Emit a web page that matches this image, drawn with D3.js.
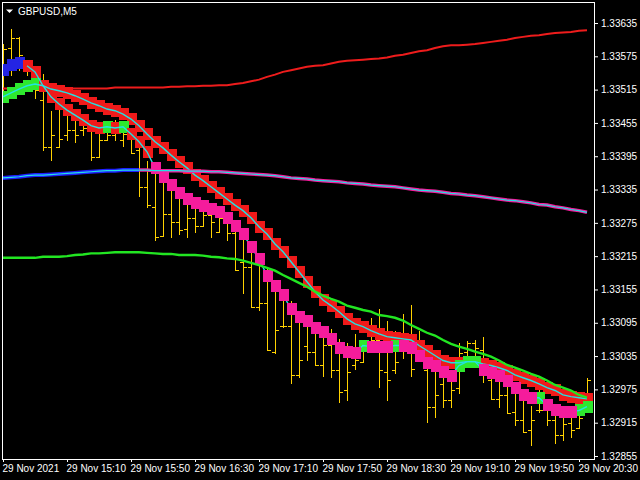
<!DOCTYPE html>
<html><head><meta charset="utf-8">
<script src="https://cdn.jsdelivr.net/npm/d3@7"></script>
<style>html,body{margin:0;padding:0;background:#000;}svg{display:block;}</style>
</head><body>
<svg id="c" width="640" height="480"></svg>
<script>
// ---------- DATA ----------
const symbol = "GBPUSD,M5";
const timeLabels = ["29 Nov 2021","29 Nov 15:10","29 Nov 15:50","29 Nov 16:30","29 Nov 17:10","29 Nov 17:50","29 Nov 18:30","29 Nov 19:10","29 Nov 19:50","29 Nov 20:30"];
const timeLabelBars = [0,8,16,24,32,40,48,56,64,72];
const priceTicks = [1.33635,1.33575,1.33515,1.33455,1.33395,1.33335,1.33275,1.33215,1.33155,1.33095,1.33035,1.32975,1.32915,1.32855];

const high = [1.33599,1.33626,1.33612,1.33570,1.33550,1.33545,1.33478,1.33487,1.33478,1.33475,
1.33469,1.33460,1.33451,1.33460,1.33462,1.33451,1.33439,1.33428,1.33388,1.33370,
1.33356,1.33343,1.33329,1.33322,1.33316,1.33311,1.33307,1.33302,1.33293,1.33277,
1.33259,1.33235,1.33217,1.33194,1.33172,1.33154,1.33136,1.33115,1.33106,1.33097,
1.33090,1.33086,1.33068,1.33061,1.33077,1.33064,1.33106,1.33122,1.33100,1.33082,
1.33113,1.33129,1.33082,1.33023,1.33010,1.33001,1.32998,1.33061,1.33064,1.33066,
1.33072,1.33010,1.33001,1.32992,1.32974,1.32956,1.32947,1.32978,1.32956,1.32938,
1.32935,1.32929,1.32947,1.32998];
const low = [1.33496,1.33541,1.33550,1.33541,1.33500,1.33406,1.33388,1.33412,1.33424,1.33421,
1.33433,1.33388,1.33394,1.33424,1.33424,1.33414,1.33401,1.33324,1.33304,1.33244,
1.33252,1.33250,1.33255,1.33250,1.33259,1.33271,1.33250,1.33259,1.33244,1.33190,
1.33149,1.33124,1.33118,1.33046,1.33041,1.33088,1.32987,1.32998,1.33028,1.33019,
1.33000,1.32998,1.32953,1.32955,1.33012,1.33025,1.33043,1.32980,1.32956,1.33005,
1.33032,1.33000,1.33043,1.32917,1.32926,1.32944,1.32944,1.32969,1.33037,1.33037,
1.32989,1.32958,1.32944,1.32933,1.32910,1.32899,1.32875,1.32935,1.32911,1.32879,
1.32884,1.32890,1.32906,1.32938];
const open = [1.33568,1.33590,1.33608,1.33568,1.33541,1.33496,1.33412,1.33412,1.33433,1.33442,
1.33442,1.33442,1.33394,1.33424,1.33433,1.33424,1.33430,1.33406,1.33340,1.33304,
1.33252,1.33291,1.33277,1.33264,1.33284,1.33270,1.33289,1.33259,1.33284,1.33257,
1.33205,1.33196,1.33124,1.33131,1.33043,1.33090,1.33090,1.33001,1.33054,1.33043,
1.33019,1.33055,1.33010,1.32973,1.33019,1.33025,1.33055,1.33064,1.33007,1.33010,
1.33046,1.33064,1.33046,1.33010,1.32944,1.32985,1.32956,1.32978,1.33043,1.33059,
1.33046,1.32992,1.32958,1.32965,1.32935,1.32920,1.32901,1.32937,1.32937,1.32920,
1.32892,1.32915,1.32906,1.32938];
const close = [1.33588,1.33608,1.33577,1.33565,1.33514,1.33412,1.33433,1.33426,1.33442,1.33433,
1.33446,1.33394,1.33424,1.33433,1.33446,1.33435,1.33401,1.33340,1.33307,1.33250,
1.33291,1.33277,1.33262,1.33284,1.33270,1.33289,1.33277,1.33284,1.33257,1.33190,
1.33196,1.33124,1.33131,1.33046,1.33082,1.33090,1.33001,1.33028,1.33043,1.33019,
1.33055,1.33010,1.32971,1.33007,1.33028,1.33055,1.33064,1.33010,1.32992,1.33025,
1.33073,1.33012,1.33055,1.32944,1.32965,1.32956,1.32974,1.33041,1.33059,1.33050,
1.33001,1.32958,1.32965,1.32933,1.32920,1.32899,1.32920,1.32937,1.32920,1.32892,
1.32913,1.32902,1.32924,1.32992];

// slow moving average (red, top)
const maRed = [1.33517,1.33517,1.33517,1.33517,1.33517,1.33517,1.33517,1.33517,1.33517,1.33517,
1.33517,1.33517,1.33517,1.33517,1.33519,1.33519,1.33519,1.33519,1.33519,1.33519,
1.33519,1.33520,1.33520,1.33521,1.33521,1.33522,1.33522,1.33523,1.33523,1.33525,
1.33527,1.33530,1.33533,1.33538,1.33542,1.33547,1.33550,1.33553,1.33556,1.33558,
1.33559,1.33562,1.33565,1.33567,1.33568,1.33569,1.33570,1.33571,1.33573,1.33576,
1.33578,1.33581,1.33584,1.33586,1.33590,1.33593,1.33595,1.33595,1.33596,1.33597,
1.33599,1.33601,1.33603,1.33605,1.33608,1.33610,1.33612,1.33613,1.33615,1.33617,
1.33618,1.33619,1.33621,1.33622];
// middle moving average (blue while rising, pink while falling)
const maMid = [1.33356,1.33357,1.33358,1.33360,1.33361,1.33361,1.33362,1.33363,1.33364,1.33365,
1.33366,1.33367,1.33368,1.33369,1.33369,1.33370,1.33370,1.33370,1.33370,1.33369,
1.33369,1.33369,1.33369,1.33368,1.33368,1.33368,1.33367,1.33367,1.33366,1.33365,
1.33364,1.33363,1.33362,1.33361,1.33360,1.33358,1.33356,1.33355,1.33354,1.33352,
1.33351,1.33350,1.33349,1.33347,1.33346,1.33345,1.33343,1.33342,1.33341,1.33340,
1.33338,1.33336,1.33334,1.33333,1.33332,1.33330,1.33328,1.33327,1.33325,1.33324,
1.33322,1.33320,1.33318,1.33316,1.33315,1.33313,1.33311,1.33308,1.33307,1.33304,
1.33302,1.33299,1.33297,1.33294];
const maMidRisingUntil = 17;
// green moving average
const maGreen = [1.33212,1.33212,1.33212,1.33212,1.33212,1.33214,1.33214,1.33214,1.33215,1.33217,
1.33218,1.33220,1.33220,1.33221,1.33222,1.33222,1.33222,1.33222,1.33221,1.33220,
1.33219,1.33219,1.33217,1.33217,1.33217,1.33216,1.33214,1.33213,1.33211,1.33210,
1.33207,1.33203,1.33199,1.33194,1.33189,1.33181,1.33174,1.33167,1.33160,1.33151,
1.33144,1.33138,1.33133,1.33126,1.33122,1.33118,1.33115,1.33109,1.33107,1.33104,
1.33099,1.33091,1.33084,1.33077,1.33072,1.33064,1.33057,1.33052,1.33048,1.33043,
1.33039,1.33034,1.33027,1.33019,1.33014,1.33009,1.33003,1.32998,1.32991,1.32983,
1.32978,1.32973,1.32965,1.32960];
// slow trend track (boxes + cyan line)
const slowTrack = [1.33502,1.33509,1.33516,1.33522,1.33525,1.33522,1.33516,1.33513,1.33509,1.33504,
1.33498,1.33491,1.33486,1.33480,1.33477,1.33471,1.33462,1.33450,1.33435,1.33421,
1.33410,1.33397,1.33385,1.33374,1.33361,1.33351,1.33340,1.33329,1.33318,1.33307,
1.33297,1.33284,1.33268,1.33255,1.33237,1.33223,1.33205,1.33187,1.33169,1.33151,
1.33136,1.33126,1.33115,1.33102,1.33093,1.33088,1.33081,1.33075,1.33070,1.33068,
1.33066,1.33064,1.33054,1.33045,1.33036,1.33027,1.33023,1.33023,1.33025,1.33025,
1.33021,1.33018,1.33014,1.33009,1.33001,1.32996,1.32991,1.32985,1.32978,1.32973,
1.32965,1.32962,1.32960,1.32958];
const slowState = ["G","G","G","G","G","R","R","R","R","R","R","R","R","R","R","R","R","R","R","R",
"R","R","R","R","R","R","R","R","R","R","R","R","R","R","R","R","R","R","R","R",
"R","R","R","R","R","R","R","R","R","R","R","R","R","R","R","R","R","R","R","R",
"R","R","R","R","R","R","R","R","R","R","R","R","R","R"];
// fast trend track (boxes + cyan line)
const fastTrack = [1.33550,1.33559,1.33563,1.33558,1.33547,1.33522,1.33502,1.33489,1.33478,1.33469,
1.33460,1.33450,1.33446,1.33448,1.33446,1.33448,1.33435,1.33421,1.33403,1.33374,
1.33358,1.33343,1.33329,1.33318,1.33311,1.33306,1.33300,1.33295,1.33284,1.33270,
1.33255,1.33232,1.33210,1.33180,1.33162,1.33145,1.33120,1.33106,1.33099,1.33086,
1.33079,1.33066,1.33050,1.33043,1.33041,1.33054,1.33052,1.33052,1.33052,1.33054,
1.33054,1.33050,1.33036,1.33023,1.33018,1.33007,1.33000,1.33018,1.33025,1.33025,
1.33010,1.33005,1.33000,1.32991,1.32978,1.32964,1.32960,1.32960,1.32946,1.32938,
1.32935,1.32935,1.32937,1.32944];
const fastState = ["B","B","B","R","R","R","R","R","R","R","R","R","R","G","R","G","R","R","R","P",
"P","P","P","P","P","P","P","P","P","P","P","P","P","P","P","P","P","P","P","P",
"P","P","P","P","P","G","P","P","P","G","P","P","P","P","P","P","P","G","G","G",
"P","P","P","P","P","P","P","G","P","P","P","P","G","G"];
const fastLineStart = 3;

// ---------- STYLE ----------
const COL = {B:"#2424e4", R:"#f01a1a", G:"#2ee82e", P:"#f51c9c"};
const CYAN = "#22e2e2";
const FONT = "'Liberation Sans', Arial, sans-serif";

// ---------- CHART ----------
const svg = d3.select("#c");
svg.append("rect").attr("width",640).attr("height",480).attr("fill","#000");

const x = d3.scaleLinear().domain([0,74]).range([3,595]);
const y = d3.scaleLinear().domain([1.32855,1.33635]).range([456,23]);
const idx = d3.range(high.length);

svg.append("defs").append("clipPath").attr("id","plot")
  .append("rect").attr("x",3).attr("y",3).attr("width",591).attr("height",456);
const g = svg.append("g").attr("clip-path","url(#plot)");

// OHLC bars
const barG = g.append("g").attr("stroke","#ffd200").attr("stroke-width",1).attr("shape-rendering","crispEdges");
const px = i => Math.round(x(i)) + 0.5;
const py = v => Math.round(y(v)) + 0.5;
barG.selectAll("line.w").data(idx).join("line").attr("class","w")
  .attr("x1",px).attr("x2",px).attr("y1",i=>py(high[i])).attr("y2",i=>py(low[i]));
barG.selectAll("line.o").data(idx).join("line").attr("class","o")
  .attr("x1",i=>px(i)-3.5).attr("x2",px).attr("y1",i=>py(open[i])).attr("y2",i=>py(open[i]));
barG.selectAll("line.c").data(idx).join("line").attr("class","c")
  .attr("x1",px).attr("x2",i=>px(i)+3.5).attr("y1",i=>py(close[i])).attr("y2",i=>py(close[i]));

const line = d3.line().x(i=>x(i));
// slow red MA (under the boxes)
g.append("path").attr("d", line.y(i=>y(maRed[i]))(idx)).attr("fill","none").attr("stroke","#ee1c1c").attr("stroke-width",2);

const BW = 10, BH = 12;
function boxes(layer, track, state, filter){
  layer.selectAll("rect").data(idx.filter(i=>filter(state[i]))).join("rect")
    .attr("x",i=>Math.round(x(i))-4).attr("width",BW)
    .attr("y",i=>Math.round(y(track[i])-BH/2)).attr("height",BH)
    .attr("fill",i=>COL[state[i]]).attr("shape-rendering","crispEdges");
}
boxes(g.append("g"), slowTrack, slowState, s=>true);
boxes(g.append("g"), fastTrack, fastState, s=>s!=="P");

g.append("path").attr("d", line.y(i=>y(slowTrack[i]))(idx)).attr("fill","none").attr("stroke",CYAN).attr("stroke-width",1.4);
g.append("path").attr("d", line.y(i=>y(fastTrack[i]))(idx.filter(i=>i>=fastLineStart))).attr("fill","none").attr("stroke",CYAN).attr("stroke-width",1.4);

boxes(g.append("g"), fastTrack, fastState, s=>s==="P");

// middle and green moving averages
const rising = idx.filter(i=>i<=maMidRisingUntil), falling = idx.filter(i=>i>=maMidRisingUntil);
g.append("path").attr("d", line.y(i=>y(maMid[i]))(rising)).attr("fill","none").attr("stroke","#1f1fff").attr("stroke-width",4);
g.append("path").attr("d", line.y(i=>y(maMid[i]))(falling)).attr("fill","none").attr("stroke","#f51c9c").attr("stroke-width",3.5);
g.append("path").attr("d", line.y(i=>y(maMid[i]))(idx)).attr("fill","none").attr("stroke",CYAN).attr("stroke-width",1.2);
g.append("path").attr("d", line.y(i=>y(maGreen[i]))(idx)).attr("fill","none").attr("stroke","#22e622").attr("stroke-width",2.4);

// frame
svg.append("rect").attr("x",2.5).attr("y",2.5).attr("width",592).attr("height",457)
  .attr("fill","none").attr("stroke","#fff").attr("stroke-width",1).attr("shape-rendering","crispEdges");

// axes
const yAxis = d3.axisRight(y).tickValues(priceTicks).tickSize(3).tickPadding(3).tickFormat(d3.format(".5f"));
const ya = svg.append("g").attr("transform","translate(595,0)").call(yAxis);
const xAxis = d3.axisBottom(x).tickValues(timeLabelBars).tickSize(3).tickPadding(3).tickFormat((d,i)=>timeLabels[i]);
const xa = svg.append("g").attr("transform","translate(0,459)").call(xAxis);
[ya,xa].forEach(a=>{
  a.select(".domain").remove();
  a.selectAll(".tick line").attr("stroke","#fff");
  a.selectAll(".tick text").attr("fill","#fff").attr("font-family",FONT).attr("font-size",10);
});
xa.selectAll(".tick text").attr("text-anchor","start").attr("x",-1);

// title
svg.append("path").attr("d","M6,9.5 L13,9.5 L9.5,13 Z").attr("fill","#fff");
svg.append("text").attr("x",18).attr("y",14.5).attr("fill","#fff").attr("font-family",FONT).attr("font-size",10).text(symbol);
</script>
</body></html>
